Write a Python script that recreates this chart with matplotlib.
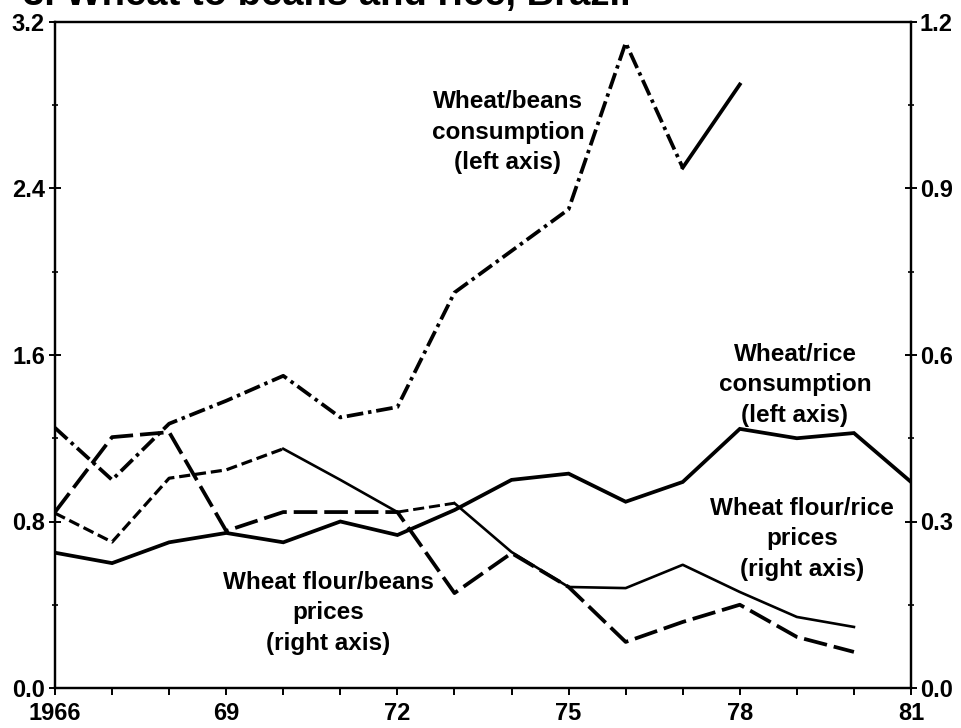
import matplotlib
matplotlib.use("Agg")
import matplotlib.pyplot as plt
from matplotlib.ticker import MultipleLocator, FixedLocator, FuncFormatter

plt.rcParams['font.family'] = ['Liberation Sans', 'DejaVu Sans']
plt.rcParams['font.weight'] = 'bold'
plt.rcParams['lines.scale_dashes'] = False

# ---- data ----
years = list(range(1966, 1982))
years_p = list(range(1966, 1981))
years_b = list(range(1966, 1979))

wheat_rice_cons = [0.65, 0.60, 0.70, 0.745, 0.70, 0.80, 0.735, 0.855,
                   1.00, 1.03, 0.895, 0.99, 1.245, 1.20, 1.225, 0.99]
wheat_beans_cons = [1.25, 1.00, 1.27, 1.38, 1.50, 1.30, 1.35, 1.90,
                    2.10, 2.30, 3.10, 2.50, 2.90]
flour_beans_prices = [0.317, 0.452, 0.461, 0.283, 0.317, 0.317, 0.317, 0.171,
                      0.243, 0.182, 0.083, 0.119, 0.150, 0.092, 0.065]
flour_rice_prices = [0.315, 0.263, 0.378, 0.393, 0.431, 0.375, 0.317, 0.333,
                     0.245, 0.182, 0.180, 0.222, 0.173, 0.128, 0.110]

title = "3. Wheat to beans and rice, Brazil"
xtick_years = [1966, 1969, 1972, 1975, 1978, 1981]
xtick_labels = ["1966", "69", "72", "75", "78", "81"]
label_beans_cons = "Wheat/beans\nconsumption\n(left axis)"
label_rice_cons = "Wheat/rice\nconsumption\n(left axis)"
label_rice_prices = "Wheat flour/rice\nprices\n(right axis)"
label_beans_prices = "Wheat flour/beans\nprices\n(right axis)"

# ---- figure ----
W, H = 961, 728
fig = plt.figure(figsize=(W / 100, H / 100), dpi=100)
L, R, T, B = 55, 911, 22, 688
ax = fig.add_axes([L / W, 1 - B / H, (R - L) / W, (B - T) / H])
ax2 = ax.twinx()

k = 'black'
# Wheat/rice consumption (solid, left)
ax.plot(years, wheat_rice_cons, color=k, lw=2.7, solid_joinstyle='miter')
# Wheat/beans consumption (dash-dot, left), last segment solid
ax.plot(years_b[:12], wheat_beans_cons[:12], color=k, lw=2.7,
        dashes=(12, 3.5, 2.5, 3.5))
ax.plot(years_b[11:], wheat_beans_cons[11:], color=k, lw=2.7)

# Wheat flour/beans prices (long dash, right)
ax2.plot(years_p, flour_beans_prices, color=k, lw=2.7, dashes=(17, 5))
# Wheat flour/rice prices (short dash / thin, right)
ax2.plot(years_p[:5], flour_rice_prices[:5], color=k, lw=2.3, dashes=(8, 3.5))
ax2.plot(years_p[4:7], flour_rice_prices[4:7], color=k, lw=1.9)
ax2.plot(years_p[6:8], flour_rice_prices[6:8], color=k, lw=2.1, dashes=(8, 3.5))
ax2.plot(years_p[7:], flour_rice_prices[7:], color=k, lw=1.9)

ax.set_xlim(1966, 1981)
ax.set_ylim(0, 3.2)
ax2.set_ylim(0, 1.2)

ax.xaxis.set_major_locator(FixedLocator(xtick_years))
ax.set_xticklabels(xtick_labels)
ax.xaxis.set_minor_locator(MultipleLocator(1))
ax.yaxis.set_major_locator(MultipleLocator(0.8))
ax.yaxis.set_minor_locator(MultipleLocator(0.4))
ax.yaxis.set_major_formatter(FuncFormatter(lambda v, p: f"{v:.1f}"))
ax2.yaxis.set_major_locator(MultipleLocator(0.3))
ax2.yaxis.set_minor_locator(MultipleLocator(0.15))
ax2.yaxis.set_major_formatter(FuncFormatter(lambda v, p: f"{v:.1f}"))

for a in (ax, ax2):
    for s in a.spines.values():
        s.set_linewidth(1.6)
        s.set_color(k)

ax.tick_params(axis='x', which='both', direction='out', length=5, width=1.4,
               labelsize=17, pad=5, top=False)
ax.tick_params(axis='y', which='major', direction='inout', length=8.5, width=1.4,
               labelsize=17, pad=3)
ax.tick_params(axis='y', which='minor', direction='inout', length=5, width=1.2)
ax2.tick_params(axis='y', which='major', direction='inout', length=8.5, width=1.4,
                labelsize=17, pad=2)
ax2.tick_params(axis='y', which='minor', direction='inout', length=5, width=1.2)
for lab in ax.get_xticklabels() + ax.get_yticklabels() + ax2.get_yticklabels():
    lab.set_fontweight('bold')

def px2ax(px, py):
    return (px - L) / (R - L), (B - py) / (B - T)

tkw = dict(ha='center', va='center', multialignment='center', fontsize=17.5,
           fontweight='bold', linespacing=1.42, transform=ax.transAxes)
ax.text(*px2ax(508, 132), label_beans_cons, **tkw)
ax.text(*px2ax(795, 385), label_rice_cons, **tkw)
ax.text(*px2ax(802, 539), label_rice_prices, **tkw)
ax.text(*px2ax(328, 613), label_beans_prices, **tkw)

fig.text(23 / W, 1 - 5 / H, title, ha='left', va='baseline', fontsize=27.5,
         fontweight='bold')

fig.savefig("out.png", dpi=100)
